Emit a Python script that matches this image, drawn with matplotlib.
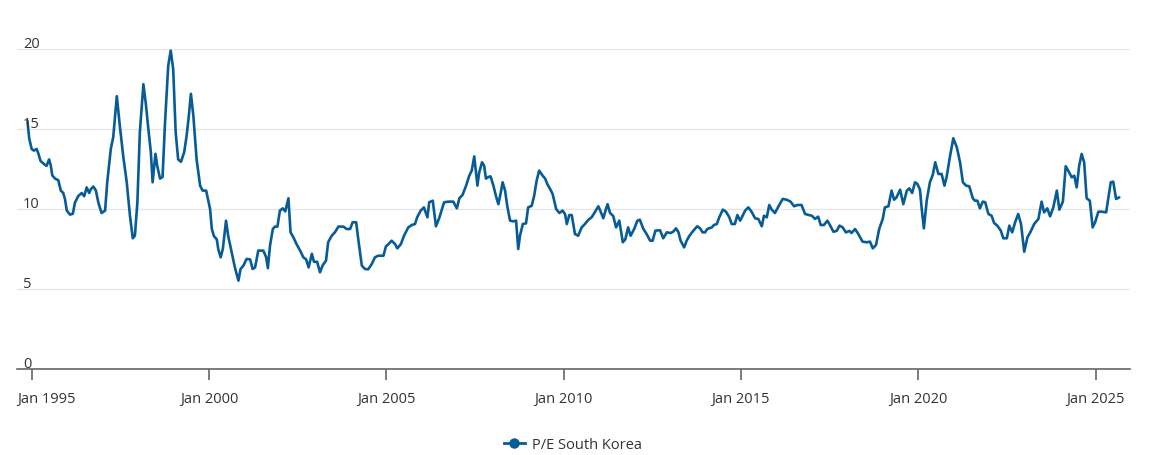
import matplotlib
matplotlib.use("Agg")
import matplotlib.pyplot as plt
from matplotlib.lines import Line2D
from matplotlib.transforms import ScaledTranslation

# Dates as decimal years, P/E values
dates = [
    1994.88, 1994.93, 1995.00, 1995.06, 1995.14, 1995.19, 1995.25, 1995.38, 1995.42, 1995.49,
    1995.54, 1995.58, 1995.66, 1995.75, 1995.82, 1995.89, 1995.94, 1995.99, 1996.08, 1996.16,
    1996.22, 1996.31, 1996.41, 1996.48, 1996.55, 1996.62, 1996.67, 1996.74, 1996.81, 1996.88,
    1996.97, 1997.07, 1997.13, 1997.23, 1997.30, 1997.40, 1997.49, 1997.58, 1997.68, 1997.77,
    1997.85, 1997.91, 1997.98, 1998.05, 1998.15, 1998.22, 1998.29, 1998.36, 1998.41, 1998.49,
    1998.54, 1998.62, 1998.69, 1998.76, 1998.85, 1998.92, 1998.99, 1999.06, 1999.13, 1999.21,
    1999.30, 1999.37, 1999.43, 1999.49, 1999.56, 1999.65, 1999.75, 1999.82, 1999.92,
    2000.03, 2000.08, 2000.14, 2000.22, 2000.26, 2000.33, 2000.39, 2000.48, 2000.54, 2000.64,
    2000.73, 2000.83, 2000.89, 2000.97, 2001.06, 2001.16, 2001.23, 2001.30, 2001.39, 2001.53,
    2001.61, 2001.66, 2001.72, 2001.80, 2001.86, 2001.93, 2002.00, 2002.08, 2002.15, 2002.24,
    2002.30, 2002.38, 2002.47, 2002.57, 2002.66, 2002.74, 2002.81, 2002.90, 2002.96, 2003.05,
    2003.13, 2003.21, 2003.30, 2003.36, 2003.46, 2003.55, 2003.65, 2003.79, 2003.88, 2003.98,
    2004.05, 2004.15, 2004.21, 2004.31, 2004.40, 2004.49, 2004.59, 2004.68, 2004.77,
    2004.92, 2004.99, 2005.06, 2005.15, 2005.25, 2005.31, 2005.41, 2005.50, 2005.62, 2005.72,
    2005.81, 2005.87, 2005.97, 2006.06, 2006.16, 2006.21, 2006.31, 2006.40, 2006.49, 2006.63,
    2006.75, 2006.89, 2006.99, 2007.06, 2007.15, 2007.25, 2007.34, 2007.41, 2007.48, 2007.57,
    2007.62, 2007.70, 2007.76, 2007.81, 2007.88, 2007.94, 2008.02, 2008.09, 2008.16, 2008.23,
    2008.28, 2008.35, 2008.41, 2008.49, 2008.58, 2008.66, 2008.72, 2008.77, 2008.85, 2008.94,
    2009.00, 2009.10, 2009.17, 2009.24, 2009.31, 2009.41, 2009.48, 2009.54, 2009.62, 2009.69,
    2009.79, 2009.88,
    2009.97, 2010.04, 2010.09, 2010.16, 2010.23, 2010.32, 2010.41, 2010.51, 2010.60, 2010.70,
    2010.79, 2010.89, 2010.98, 2011.05, 2011.12, 2011.19, 2011.24, 2011.31, 2011.40, 2011.48,
    2011.57, 2011.67, 2011.74, 2011.82, 2011.89, 2011.99, 2012.08, 2012.15, 2012.25, 2012.34,
    2012.44, 2012.51, 2012.59, 2012.72, 2012.81, 2012.91, 2013.02, 2013.09, 2013.17, 2013.24,
    2013.30, 2013.40, 2013.47, 2013.55, 2013.66, 2013.77, 2013.85, 2013.92, 2013.99, 2014.05,
    2014.18, 2014.24, 2014.32, 2014.39, 2014.49, 2014.58, 2014.67, 2014.74, 2014.83, 2014.90,
    2014.98, 2015.05, 2015.12, 2015.21, 2015.30, 2015.40, 2015.49, 2015.59, 2015.65, 2015.73,
    2015.80, 2015.87, 2015.96, 2016.06, 2016.18, 2016.29, 2016.40, 2016.50, 2016.59, 2016.71,
    2016.81, 2016.90, 2017.00, 2017.09, 2017.18, 2017.25, 2017.34, 2017.44, 2017.51, 2017.61,
    2017.70, 2017.78, 2017.87, 2017.96, 2018.06, 2018.12, 2018.22, 2018.31, 2018.43, 2018.55,
    2018.64, 2018.72, 2018.81, 2018.90, 2019.00, 2019.06, 2019.16, 2019.25, 2019.32, 2019.39,
    2019.49, 2019.58, 2019.68, 2019.75, 2019.83, 2019.91, 2019.98,
    2020.05, 2020.10, 2020.16, 2020.24, 2020.33, 2020.41, 2020.48, 2020.57, 2020.66, 2020.74,
    2020.80, 2020.90, 2020.99, 2021.09, 2021.18, 2021.26, 2021.35, 2021.44, 2021.54, 2021.60,
    2021.67, 2021.74, 2021.82, 2021.89, 2021.98, 2022.07, 2022.14, 2022.23, 2022.33, 2022.40,
    2022.50, 2022.57, 2022.65, 2022.74, 2022.82, 2022.90, 2022.99, 2023.08, 2023.17, 2023.27,
    2023.39, 2023.48, 2023.55, 2023.64, 2023.72, 2023.81, 2023.91, 2023.98, 2024.08, 2024.16,
    2024.23, 2024.33, 2024.40, 2024.47, 2024.54, 2024.61, 2024.68, 2024.75, 2024.84, 2024.92,
    2024.99, 2025.08, 2025.18, 2025.30, 2025.36, 2025.43, 2025.50, 2025.58, 2025.67,
]

pe_values = [
    15.5, 14.4, 13.75, 13.65, 13.75, 13.45, 13.0, 12.75, 12.7, 13.1,
    12.7, 12.1, 11.9, 11.8, 11.15, 11.0, 10.6, 9.9, 9.65, 9.7,
    10.4, 10.8, 11.0, 10.8, 11.35, 11.0, 11.25, 11.4, 11.15, 10.4,
    9.75, 9.9, 11.67, 13.75, 14.5, 17.05, 15.1, 13.33, 11.67, 9.6,
    8.17, 8.33, 10.4, 14.8, 17.8, 16.55, 15.0, 13.55, 11.67, 13.45,
    12.7, 11.9, 12.0, 15.4, 18.95, 19.9, 18.75, 14.8, 13.1, 12.95,
    13.55, 14.6, 15.8, 17.2, 15.8, 13.1, 11.45, 11.15, 11.15,
    10.0, 8.75, 8.3, 8.1, 7.5, 6.98, 7.5, 9.27, 8.33, 7.3,
    6.35, 5.52, 6.25, 6.46, 6.88, 6.85, 6.25, 6.35, 7.4, 7.4,
    7.0, 6.3, 7.7, 8.75, 8.9, 8.9, 9.9, 10.04, 9.85, 10.67,
    8.54, 8.23, 7.8, 7.4, 6.98, 6.85, 6.35, 7.2, 6.7, 6.7,
    6.04, 6.5, 6.77, 7.92, 8.33, 8.54, 8.9, 8.9, 8.75, 8.75,
    9.17, 9.17, 8.1, 6.46, 6.25, 6.23, 6.56, 6.98, 7.08,
    7.08, 7.67, 7.8, 8.02, 7.8, 7.54, 7.8, 8.33, 8.85, 9.0,
    9.06, 9.48, 9.9, 10.1, 9.48, 10.42, 10.52, 8.92, 9.42, 10.42,
    10.46, 10.46, 10.04, 10.67, 10.88, 11.46, 12.08, 12.4, 13.29, 11.46,
    12.29, 12.92, 12.7, 11.9, 12.0, 12.04, 11.46, 10.83, 10.3, 11.04,
    11.67, 11.15, 10.2, 9.27, 9.23, 9.27, 7.5, 8.33, 9.06, 9.1,
    10.1, 10.2, 10.83, 11.77, 12.4, 12.08, 11.9, 11.56, 11.25, 10.94,
    10.0, 9.75,
    9.9, 9.69, 9.06, 9.62, 9.62, 8.44, 8.33, 8.85, 9.06, 9.33,
    9.48, 9.83, 10.17, 9.81, 9.42, 9.96, 10.3, 9.75, 9.56, 8.85,
    9.27, 7.92, 8.1, 8.85, 8.33, 8.75, 9.27, 9.33, 8.75, 8.44,
    8.02, 8.02, 8.65, 8.67, 8.17, 8.54, 8.5, 8.58, 8.79, 8.54,
    8.02, 7.6, 8.02, 8.33, 8.65, 8.92, 8.79, 8.54, 8.54, 8.75,
    8.85, 9.0, 9.06, 9.48, 9.96, 9.83, 9.5, 9.06, 9.06, 9.62,
    9.27, 9.58, 9.9, 10.1, 9.83, 9.42, 9.38, 8.92, 9.58, 9.48,
    10.25, 9.96, 9.75, 10.17, 10.63, 10.58, 10.46, 10.17, 10.25, 10.25,
    9.69, 9.63, 9.58, 9.38, 9.52, 9.0, 9.0, 9.27, 9.0, 8.58,
    8.63, 8.96, 8.85, 8.54, 8.63, 8.5, 8.75, 8.44, 7.96, 7.92,
    7.96, 7.54, 7.75, 8.75, 9.38, 10.1, 10.17, 11.15, 10.58, 10.73,
    11.21, 10.3, 11.15, 11.29, 11.0, 11.67, 11.56,
    11.21, 10.0, 8.79, 10.52, 11.67, 12.13, 12.92, 12.19, 12.19, 11.46,
    11.98, 13.33, 14.42, 13.85, 12.92, 11.67, 11.46, 11.42, 10.67, 10.52,
    10.52, 10.04, 10.46, 10.42, 9.69, 9.58, 9.13, 8.96, 8.65, 8.17,
    8.17, 8.96, 8.54, 9.21, 9.69, 9.06, 7.33, 8.23, 8.58, 9.06,
    9.38, 10.46, 9.79, 10.04, 9.54, 10.1, 11.15, 9.96, 10.46, 12.67,
    12.4, 11.98, 12.08, 11.35, 12.71, 13.44, 12.92, 10.67, 10.52, 8.85,
    9.17, 9.83, 9.83, 9.79, 10.67, 11.67, 11.71, 10.63, 10.73,
]

x_tick_years = [1995, 2000, 2005, 2010, 2015, 2020, 2025]
x_tick_labels = ["Jan 1995", "Jan 2000", "Jan 2005", "Jan 2010",
                 "Jan 2015", "Jan 2020", "Jan 2025"]
y_ticks = [0, 5, 10, 15, 20]
series_name = "P/E South Korea"

LINE = "#075c97"
TXT = "#333333"
FONT = ["Open Sans", "DejaVu Sans"]

plt.rcParams["font.family"] = FONT

fig = plt.figure(figsize=(11.52, 4.56), dpi=100)
ax = fig.add_axes([17 / 1152, 1 - 370 / 456, (1130 - 17) / 1152, 320 / 456])

ax.plot(dates, pe_values, color=LINE, lw=1.9, solid_joinstyle="round",
        solid_capstyle="round", clip_on=False, zorder=3)

ax.set_xlim(1995 - 14.7 / 35.46, 1995 + (1130 - 31.7) / 35.46)
ax.set_ylim(0, 20)

# grid
ax.set_yticks(y_ticks)
ax.yaxis.grid(True, color="#e6e6e6", lw=1.0)
ax.set_axisbelow(True)
ax.tick_params(axis="y", length=0, labelleft=False)
for s in ["top", "right", "left"]:
    ax.spines[s].set_visible(False)
ax.spines["bottom"].set_color("#666666")
ax.spines["bottom"].set_linewidth(1.2)
ax.spines["bottom"].set_zorder(4)

# y labels above gridlines (left aligned)
ytr = ax.get_yaxis_transform() + ScaledTranslation(6 / 100, 2 / 100, fig.dpi_scale_trans)
for v in y_ticks:
    ax.text(0, v, str(v), transform=ytr, ha="left", va="baseline",
            fontsize=10.5, color=TXT)

# x ticks
ax.set_xticks(x_tick_years)
ax.set_xticklabels(x_tick_labels, fontsize=10.5, color=TXT)
ax.tick_params(axis="x", length=8, width=1.2, color="#666666", pad=8)
first = ax.get_xticklabels()[0]
first.set_horizontalalignment("left")
first.set_transform(first.get_transform() +
                    ScaledTranslation(-14.7 / 100, 0, fig.dpi_scale_trans))

# legend
handle = Line2D([], [], color=LINE, lw=2, marker="o", markersize=6.5)
fig.legend([handle], [series_name], loc="center",
           bbox_to_anchor=(573 / 1152, 1 - 446 / 456), frameon=False,
           fontsize=10.5, labelcolor=TXT, handlelength=1.4, handletextpad=0.5)

fig.savefig("out.png", dpi=100)
